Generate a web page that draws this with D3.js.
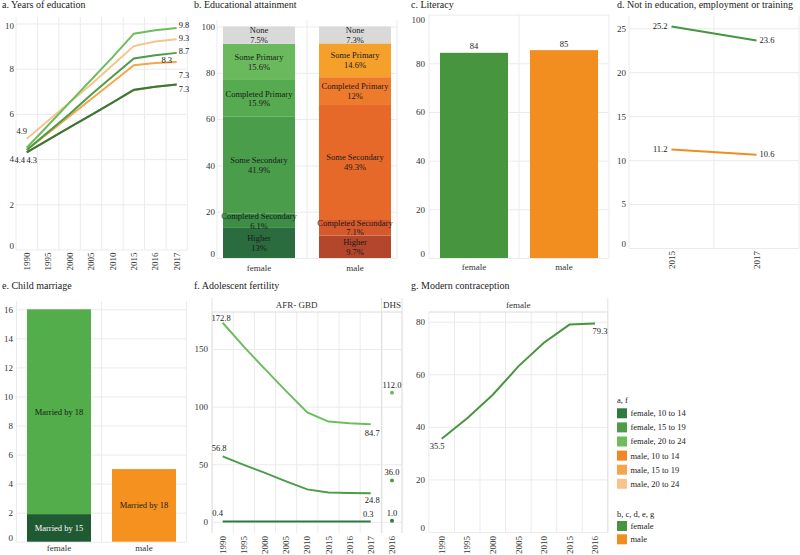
<!DOCTYPE html>
<html><head><meta charset="utf-8">
<script src="https://cdn.jsdelivr.net/npm/d3@7"></script>
<style>
body{margin:0;background:#fff}
svg, svg text{font-family:"Liberation Serif","DejaVu Serif",serif !important}
</style></head><body><svg id="c" width="800" height="555" font-family="Liberation Serif"></svg>
<script>
// ---------- DATA ----------
const yearsA = ["1990","1995","2000","2005","2010","2015","2016","2017"];
const eduF1014 = [4.3, 4.85, 5.4, 5.95, 6.5, 7.07, 7.2, 7.3];
const eduF1519 = [4.4, 5.2, 6.0, 6.85, 7.65, 8.45, 8.6, 8.7];
const eduF2024 = [4.5, 5.5, 6.5, 7.5, 8.5, 9.55, 9.7, 9.8];
const eduM1014 = [4.3, 4.85, 5.4, 5.95, 6.5, 7.05, 7.2, 7.3];
const eduM1519 = [4.4, 5.15, 5.9, 6.65, 7.4, 8.15, 8.25, 8.3];
const eduM2024 = [4.9, 5.7, 6.5, 7.3, 8.15, 9.0, 9.2, 9.3];

const sexes = ["female","male"];
const attainLevels = ["Higher","Completed Secondary","Some Secondary","Completed Primary","Some Primary","None"];
const attainFemale = [13, 6.1, 41.9, 15.9, 15.6, 7.5];
const attainMale = [9.7, 7.1, 49.3, 12, 14.6, 7.3];
const attainFemaleLbl = ["13%","6.1%","41.9%","15.9%","15.6%","7.5%"];
const attainMaleLbl = ["9.7%","7.1%","49.3%","12%","14.6%","7.3%"];

const literacy = [84.3, 85.4];
const literacyLbl = ["84", "85"];

const yearsD = ["2015","2017"];
const neetFemale = [25.2, 23.6];
const neetMale = [11.2, 10.6];

const marriageLevels = ["Married by 15","Married by 18"];
const marriageFemale = [1.9, 16];
const marriageMale = [null, 5.0];

const fertF1014 = [0.4, 0.4, 0.4, 0.4, 0.3, 0.3, 0.3, 0.3];
const fertF1519 = [56.8, 49.5, 42.5, 35.2, 28.2, 25.6, 25.1, 24.8];
const fertF2024 = [172.8, 152, 132.5, 113.5, 95, 87, 85.6, 84.7];
const dhsYears = ["2016"];
const dhsFert = [1.0, 36.0, 112.0]; // 10-14, 15-19, 20-24

const yearsG = ["1990","1995","2000","2005","2010","2015","2016"];
const contraception = [35.5, 43.3, 52.2, 63, 72, 78.9, 79.3];

const legendA = ["female, 10 to 14","female, 15 to 19","female, 20 to 24","male, 10 to 14","male, 15 to 19","male, 20 to 24"];
const legendB = ["female","male"];

// ---------- STYLE ----------
const FONT = '"Liberation Serif","DejaVu Serif",serif';
const GRID = "#ebebeb", TXT = "#333";
const C = {
  f1014:"#2f7a3e", f1519:"#4c9c4a", f2024:"#6dbd5f",
  m1014:"#ef8728", m1519:"#f5a54b", m2024:"#f8c48d",
  female:"#47963f", male:"#f28e1f"
};
const attainFemaleCol = ["#2a6c3e","#3d8d47","#4a9d4b","#56aa50","#6aba5d","#d9d9d9"];
const attainMaleCol   = ["#b4462c","#d5592c","#e7692a","#ee7b2c","#f5a02b","#d9d9d9"];
const marriageFemaleCol = ["#1f5a33","#52ad4a"];
const marriageMaleCol = [null, "#f5921f"];

const svg = d3.select("#c");

function title(x, y, t){
  svg.append("text").attr("x",x).attr("y",y).attr("font-family",FONT).attr("font-size",10).attr("fill","#222").text(t);
}
function yAxis(y, ticks, x0, x1, labelRight, shiftZero, shiftTop){
  const top = ticks[ticks.length-1];
  const g = svg.append("g").attr("transform",`translate(${x0},0)`)
    .call(d3.axisLeft(y).tickValues(ticks).tickSize(-(x1-x0)).tickPadding(x0-labelRight));
  g.attr("font-family",FONT).attr("font-size",9);
  g.select(".domain").remove();
  g.selectAll(".tick line").attr("stroke",GRID);
  g.selectAll(".tick text").attr("fill",TXT)
    .attr("dy", d => (d===0 && shiftZero) ? "-0.15em" : (d===top && shiftTop) ? shiftTop : "0.32em");
  return g;
}
function vGrid(x, top, bot){
  const xs = [x.range()[0]];
  x.domain().forEach((d,i)=>{ if(i>0) xs.push(x(d) - x.step()*x.paddingInner()/2); });
  xs.push(x.range()[1]);
  svg.append("g").selectAll("line").data(xs).join("line")
    .attr("x1",d=>d).attr("x2",d=>d).attr("y1",top).attr("y2",bot).attr("stroke",GRID);
}
function xAxisRot(x, yb){
  const g = svg.append("g").attr("transform",`translate(0,${yb})`)
    .call(d3.axisBottom(x).tickSize(0));
  g.attr("font-family",FONT).attr("font-size",9);
  g.select(".domain").remove();
  g.selectAll(".tick text").attr("fill",TXT).attr("transform","rotate(-90)")
    .attr("text-anchor","end").attr("x",-3).attr("y",0).attr("dy","0.35em");
}
function xAxisFlat(x, yb, pad){
  const g = svg.append("g").attr("transform",`translate(0,${yb})`)
    .call(d3.axisBottom(x).tickSize(0).tickPadding(pad));
  g.attr("font-family",FONT).attr("font-size",9);
  g.select(".domain").remove();
  g.selectAll(".tick text").attr("fill",TXT);
}
function label(x, y, t, anchor, col){
  svg.append("text").attr("x",x).attr("y",y).attr("dy","0.35em").attr("text-anchor",anchor||"middle")
    .attr("font-family",FONT).attr("font-size",8.5).attr("fill",col||"#222").text(t);
}
function twoLine(x, y, t1, t2, col){
  label(x, y-4.8, t1, "middle", col);
  label(x, y+4.8, t2, "middle", col);
}

// ---------- a. Years of education ----------
{
  const x = d3.scaleBand().domain(yearsA).range([16,187.4]).padding(0);
  const y = d3.scaleLinear().domain([0,10]).range([249.5,23.5]);
  const cx = d => x(d) + x.bandwidth()/2;
  title(2, 8, "a. Years of education");
  vGrid(x, 17, 249.5);
  yAxis(y, [0,2,4,6,8,10], 16, 187.4, 14, true, "0.5em");
  xAxisRot(x, 249.5);
  const line = d3.line().x((d,i)=>cx(yearsA[i])).y(d=>y(d));
  const series = [[eduM2024,C.m2024],[eduM1519,C.m1519],[eduM1014,C.m1014],[eduF2024,C.f2024],[eduF1519,C.f1519],[eduF1014,C.f1014]];
  series.forEach(([v,c])=>svg.append("path").attr("d",line(v)).attr("fill","none").attr("stroke",c).attr("stroke-width",2));
  const x0 = cx(yearsA[0]), xe = cx(yearsA[7]);
  label(x0-5, y(eduM2024[0])-8, eduM2024[0].toFixed(1));
  label(x0-7, y(eduF1519[0])+10, eduF1519[0].toFixed(1));
  label(x0+5, y(eduF1014[0])+8, eduF1014[0].toFixed(1));
  label(xe+2, y(eduF2024[7])-3, eduF2024[7].toFixed(1), "start");
  label(xe+2, y(eduM2024[7])-1.5, eduM2024[7].toFixed(1), "start");
  label(xe+2, y(eduF1519[7])-2, eduF1519[7].toFixed(1), "start");
  label(xe-10, y(eduM1519[7])-2, eduM1519[7].toFixed(1));
  label(xe+2, y(eduM1014[7])-9.5, eduM1014[7].toFixed(1), "start");
  label(xe+2, y(eduF1014[7])+5, eduF1014[7].toFixed(1), "start");
}

// ---------- b. Educational attainment ----------
{
  const x = d3.scaleBand().domain(sexes).range([217,397]).paddingInner(0.25).paddingOuter(0.0625);
  const y = d3.scaleLinear().domain([0,100]).range([258,26.5]);
  title(194, 8, "b. Educational attainment");
  vGrid(x, 20, 258);
  yAxis(y, [0,20,40,60,80,100], 217, 397, 215, true, false);
  xAxisFlat(x, 258, 7);
  [[attainFemale,attainFemaleCol,attainFemaleLbl,"female"],[attainMale,attainMaleCol,attainMaleLbl,"male"]].forEach(([vals,cols,lbls,s])=>{
    let cum = 0;
    vals.forEach((v,i)=>{
      const y0 = cum, y1 = cum + v; cum = y1;
      svg.append("rect").attr("x",x(s)).attr("width",x.bandwidth()).attr("y",y(y1)).attr("height",y(y0)-y(y1)).attr("fill",cols[i]);
    });
    cum = 0;
    vals.forEach((v,i)=>{
      const y0 = cum, y1 = cum + v; cum = y1;
      twoLine(x(s)+x.bandwidth()/2, y((y0+y1)/2), attainLevels[i], lbls[i], "#1a1a1a");
    });
  });
}

// ---------- c. Literacy ----------
{
  const x = d3.scaleBand().domain(sexes).range([429,609]).paddingInner(0.244).paddingOuter(0.122);
  const y = d3.scaleLinear().domain([0,100]).range([258,14.6]);
  title(411, 8, "c. Literacy");
  vGrid(x, 14.6, 258);
  yAxis(y, [0,20,40,60,80,100], 429, 609, 425, true, "0.9em");
  xAxisFlat(x, 258, 6);
  sexes.forEach((s,i)=>{
    svg.append("rect").attr("x",x(s)).attr("width",x.bandwidth()).attr("y",y(literacy[i])).attr("height",y(0)-y(literacy[i])).attr("fill",C[s]);
    label(x(s)+x.bandwidth()/2, y(literacy[i])-6.5, literacyLbl[i]);
  });
}

// ---------- d. NEET ----------
{
  const x = d3.scaleBand().domain(yearsD).range([629,799]).padding(0);
  const y = d3.scaleLinear().domain([0,25]).range([248,28.3]);
  const cx = d => x(d) + x.bandwidth()/2;
  title(617, 8, "d. Not in education, employment or training");
  vGrid(x, 16, 248);
  yAxis(y, [0,5,10,15,20,25], 629, 799, 626, true, false);
  xAxisRot(x, 248);
  const line = d3.line().x((d,i)=>cx(yearsD[i])).y(d=>y(d));
  [[neetMale,C.male],[neetFemale,C.female]].forEach(([v,c])=>{
    svg.append("path").attr("d",line(v)).attr("fill","none").attr("stroke",c).attr("stroke-width",2);
    label(cx(yearsD[0])-4, y(v[0])-0.5, v[0].toFixed(1), "end");
    label(cx(yearsD[1])+3, y(v[1])-0.5, v[1].toFixed(1), "start");
  });
}

// ---------- e. Child marriage ----------
{
  const x = d3.scaleBand().domain(sexes).range([16.5,186.5]).paddingInner(0.247).paddingOuter(0.1235);
  const y = d3.scaleLinear().domain([0,16]).range([541.7,309.3]);
  title(2, 289, "e. Child marriage");
  vGrid(x, 301, 541.7);
  yAxis(y, [0,2,4,6,8,10,12,14,16], 16.5, 186.5, 13, true, false);
  xAxisFlat(x, 541.7, 3);
  [[marriageFemale,marriageFemaleCol,"female"],[marriageMale,marriageMaleCol,"male"]].forEach(([vals,cols,s])=>{
    let prev = 0;
    vals.forEach((v,i)=>{
      if(v===null) return;
      svg.append("rect").attr("x",x(s)).attr("width",x.bandwidth()).attr("y",y(v)).attr("height",y(prev)-y(v)).attr("fill",cols[i]);
      label(x(s)+x.bandwidth()/2, y((prev+v)/2), marriageLevels[i], "middle", i===0 ? "#fff" : "#1a1a1a");
      prev = v;
    });
  });
}

// ---------- f. Adolescent fertility ----------
{
  const x = d3.scaleBand().domain(yearsA).range([212.1,381.3]).padding(0);
  const x2 = d3.scaleBand().domain(dhsYears).range([382,402]).padding(0);
  const y = d3.scaleLinear().domain([0,150]).range([521.9,349]);
  const cx = d => x(d) + x.bandwidth()/2;
  title(194, 289, "f. Adolescent fertility");
  vGrid(x, 312, 533);
  vGrid(x2, 312, 533);
  yAxis(y, [0,50,100,150], 212.1, 381.3, 208, false, false);
  svg.append("g").attr("transform","translate(382,0)").call(d3.axisLeft(y).tickValues([0,50,100,150]).tickSize(-20).tickFormat(""))
    .call(g=>{g.select(".domain").remove(); g.selectAll(".tick line").attr("stroke",GRID);});
  // facet strips
  svg.append("line").attr("x1",212.1).attr("x2",402).attr("y1",312).attr("y2",312).attr("stroke","#dcdcdc");
  [212.1,381.6,402].forEach(v=>svg.append("line").attr("x1",v).attr("x2",v).attr("y1",298).attr("y2",533).attr("stroke","#e2e2e2"));
  svg.append("text").attr("x",(212.1+381.3)/2).attr("y",305).attr("dy","0.35em").attr("text-anchor","middle").attr("font-family",FONT).attr("font-size",9).attr("fill",TXT).text("AFR- GBD");
  svg.append("text").attr("x",392).attr("y",305).attr("dy","0.35em").attr("text-anchor","middle").attr("font-family",FONT).attr("font-size",9).attr("fill",TXT).text("DHS");
  xAxisRot(x, 533);
  xAxisRot(x2, 533);
  const line = d3.line().x((d,i)=>cx(yearsA[i])).y(d=>y(d));
  const ser = [[fertF1014,C.f1014],[fertF1519,C.f1519],[fertF2024,C.f2024]];
  ser.forEach(([v,c],k)=>{
    svg.append("path").attr("d",line(v)).attr("fill","none").attr("stroke",c).attr("stroke-width",2);
    svg.append("circle").attr("cx",x2("2016")+x2.bandwidth()/2).attr("cy",y(dhsFert[k])).attr("r",2).attr("fill",c);
    label(x2("2016")+x2.bandwidth()/2, y(dhsFert[k])-8, dhsFert[k].toFixed(1));
  });
  const x0 = cx(yearsA[0]), xe = cx(yearsA[7]);
  label(x0-1.5, y(fertF2024[0])-5, fertF2024[0].toFixed(1));
  label(xe+1.5, y(fertF2024[7])+8.5, fertF2024[7].toFixed(1));
  label(x0-3.5, y(fertF1519[0])-8, fertF1519[0].toFixed(1));
  label(xe+1.5, y(fertF1519[7])+7, fertF1519[7].toFixed(1));
  label(x0-5, y(fertF1014[0])-8, fertF1014[0].toFixed(1));
  label(xe-2.5, y(fertF1014[7])-8, fertF1014[7].toFixed(1));
}

// ---------- g. Modern contraception ----------
{
  const x = d3.scaleBand().domain(yearsG).range([428.9,607.8]).padding(0);
  const y = d3.scaleLinear().domain([0,80]).range([532,321.7]);
  const cx = d => x(d) + x.bandwidth()/2;
  title(411, 289, "g. Modern contraception");
  vGrid(x, 312, 533);
  yAxis(y, [0,20,40,60,80], 428.9, 607.8, 425, true, false);
  svg.append("line").attr("x1",428.9).attr("x2",607.8).attr("y1",312).attr("y2",312).attr("stroke","#dcdcdc");
  svg.append("line").attr("x1",607.8).attr("x2",607.8).attr("y1",298).attr("y2",533).attr("stroke","#e2e2e2");
  svg.append("text").attr("x",(428.9+607.8)/2).attr("y",305).attr("dy","0.35em").attr("text-anchor","middle").attr("font-family",FONT).attr("font-size",9).attr("fill",TXT).text("female");
  xAxisRot(x, 533);
  const line = d3.line().x((d,i)=>cx(yearsG[i])).y(d=>y(d));
  svg.append("path").attr("d",line(contraception)).attr("fill","none").attr("stroke",C.female).attr("stroke-width",2);
  label(cx(yearsG[0])-4.5, y(contraception[0])+7, contraception[0].toFixed(1));
  label(cx(yearsG[6])+5, y(contraception[6])+7, contraception[6].toFixed(1));
}

// ---------- legends ----------
{
  const colsA = [C.f1014,C.f1519,C.f2024,C.m1014,C.m1519,C.m2024];
  svg.append("text").attr("x",617).attr("y",403).attr("font-family",FONT).attr("font-size",8.5).attr("fill","#222").text("a, f");
  legendA.forEach((t,i)=>{
    const cy = 413.3 + i*14.1;
    svg.append("rect").attr("x",617).attr("y",cy-5).attr("width",10).attr("height",10).attr("fill",colsA[i]);
    svg.append("text").attr("x",630.5).attr("y",cy).attr("dy","0.35em").attr("font-family",FONT).attr("font-size",8.5).attr("fill","#222").text(t);
  });
  svg.append("text").attr("x",617).attr("y",516.5).attr("font-family",FONT).attr("font-size",8.5).attr("fill","#222").text("b, c, d, e, g");
  legendB.forEach((t,i)=>{
    const cy = 526 + i*13.3;
    svg.append("rect").attr("x",617).attr("y",cy-5).attr("width",10).attr("height",10).attr("fill",C[t]);
    svg.append("text").attr("x",630.5).attr("y",cy).attr("dy","0.35em").attr("font-family",FONT).attr("font-size",8.5).attr("fill","#222").text(t);
  });
}
</script></body></html>
